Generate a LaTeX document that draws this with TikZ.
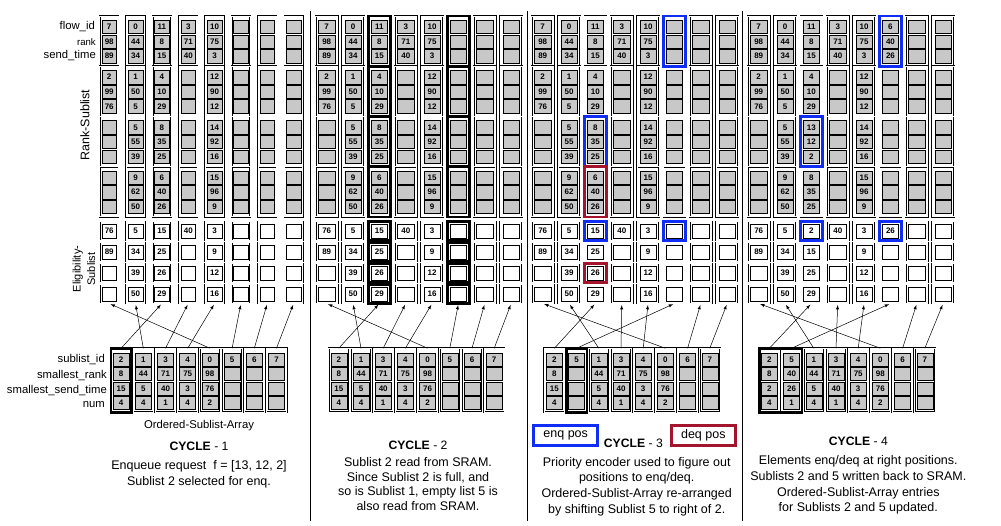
\documentclass[tikz,border=0pt]{standalone}
\usepackage{fontspec}
\setmainfont{Liberation Sans}
\usetikzlibrary{positioning}

\definecolor{cellgray}{RGB}{200,200,200}
\definecolor{enqblue}{RGB}{15,45,245}
\definecolor{deqred}{RGB}{165,20,45}

\tikzset{
  grp/.style={draw, double, double distance=1pt, line width=0.4pt, inner sep=0pt, outer sep=0pt, minimum height=50.2pt},
  eframe/.style={grp, minimum height=19pt},
  aframe/.style={grp, minimum width=20.4pt, minimum height=64pt},
  rcell/.style={draw, fill=cellgray, line width=0.5pt, inner sep=0pt, outer sep=0pt, minimum height=13.4pt},
  ecell/.style={draw, fill=white, line width=0.6pt, inner sep=0pt, outer sep=0pt, minimum height=13.6pt},
  acell/.style={rcell, minimum width=16pt, minimum height=13.2pt},
  val/.style={inner sep=0pt, font=\fontsize{8}{8}\selectfont\bfseries},
  lbl/.style={inner sep=0pt, font=\fontsize{11.3}{13}\selectfont},
  ttl/.style={inner sep=0pt, font=\fontsize{12.2}{14}\selectfont},
  desc/.style={inner sep=0pt, align=center, font=\fontsize{12.5}{15.8}\selectfont},
  link/.style={->, >=latex, line width=0.5pt, shorten >=1.5pt},
  selbox/.style={draw, line width=2.6pt},
  enqbox/.style={draw=enqblue, line width=2.6pt},
  deqbox/.style={draw=deqred, line width=2.6pt},
  divider/.style={line width=0.9pt}
}

%% data: column/group/flow_id/rank/send_time
\def\rankbase{0/0/7/98/89, 0/1/2/99/76, 1/0/0/44/34, 1/1/1/50/5, 1/2/5/55/39, 1/3/9/62/50,
  2/0/11/8/15, 2/1/4/10/29, 2/2/8/35/25, 2/3/6/40/26, 3/0/3/71/40,
  4/0/10/75/3, 4/1/12/90/12, 4/2/14/92/16, 4/3/15/96/9}
\def\rankfour{0/0/7/98/89, 0/1/2/99/76, 1/0/0/44/34, 1/1/1/50/5, 1/2/5/55/39, 1/3/9/62/50,
  2/0/11/8/15, 2/1/4/10/29, 2/2/13/12/2, 2/3/8/35/25, 3/0/3/71/40,
  4/0/10/75/3, 4/1/12/90/12, 4/2/14/92/16, 4/3/15/96/9, 5/0/6/40/26}
%% data: column/row/send_time
\def\eligbase{0/0/76, 0/1/89, 1/0/5, 1/1/34, 1/2/39, 1/3/50, 2/0/15, 2/1/25, 2/2/26, 2/3/29,
  3/0/40, 4/0/3, 4/1/9, 4/2/12, 4/3/16}
\def\eligfour{0/0/76, 0/1/89, 1/0/5, 1/1/34, 1/2/39, 1/3/50, 2/0/2, 2/1/15, 2/2/25, 2/3/29,
  3/0/40, 4/0/3, 4/1/9, 4/2/12, 4/3/16, 5/0/26}
%% data: position/sublist_id
\def\idsold{0/2, 1/1, 2/3, 3/4, 4/0, 5/5, 6/6, 7/7}
\def\idsnew{0/2, 1/5, 2/1, 3/3, 4/4, 5/0, 6/6, 7/7}
%% data: position/smallest_rank/smallest_send_time/num
\def\arrold{0/8/15/4, 1/44/5/4, 2/71/40/1, 3/75/3/4, 4/98/76/2}
\def\arrmid{0/8/15/4, 2/44/5/4, 3/71/40/1, 4/75/3/4, 5/98/76/2}
\def\arrfour{0/8/2/4, 1/40/26/1, 2/44/5/4, 3/71/40/1, 4/75/3/4, 5/98/76/2}

% #1 cycle, #2 x of column 0, #3 frame width, #4 cell width, #5 left x of array
\newcommand{\cyclegrid}[5]{%
  \foreach \col in {0,...,7} {
    \foreach \grp in {0,...,3} {
      \node[grp, minimum width=#3pt] (grp#1_\col_\grp) at ({#2+26.35*\col}, {41.1+50.2*\grp}) {};
      \foreach \idx in {0,1,2}
        \node[rcell, minimum width=#4pt] (cell#1_\col_\grp_\idx) at ({#2+26.35*\col}, {27+50.2*\grp+14.6*\idx}) {};
    }
    \foreach \row in {0,...,3} {
      \node[eframe, minimum width=#3pt] (elig#1_\col_\row) at ({#2+26.35*\col}, {231+21*\row}) {};
      \node[ecell, minimum width=#4pt] (ebox#1_\col_\row) at (elig#1_\col_\row) {};
    }
    \node[aframe] (arr#1_\col) at ({#5+11.1+22.2*\col}, 380.25) {};
    \foreach \idx in {0,...,3}
      \node[acell] (acell#1_\col_\idx) at ({#5+11.1+22.2*\col}, {359.5+14.5*\idx}) {};
  }
}

% #1 cycle, #2 rank data, #3 eligibility data, #4 sublist ids, #5 array data
\newcommand{\cyclevals}[5]{%
  \foreach \col/\grp/\fl/\rk/\st in #2 {
    \node[val] (fid#1_\col_\grp) at (cell#1_\col_\grp_0) {\fl};
    \node[val] (rnk#1_\col_\grp) at (cell#1_\col_\grp_1) {\rk};
    \node[val] (snd#1_\col_\grp) at (cell#1_\col_\grp_2) {\st};
  }
  \foreach \col/\row/\val in #3
    \node[val] (ev#1_\col_\row) at (ebox#1_\col_\row) {\val};
  \foreach \pos/\sid in #4 {
    \node[val] (sid#1_\pos) at (acell#1_\pos_0) {\sid};
    \draw[link] (arr#1_\pos.north) -- (elig#1_\sid_3.south);
  }
  \foreach \pos/\rk/\st/\nm in #5 {
    \node[val] (srk#1_\pos) at (acell#1_\pos_1) {\rk};
    \node[val] (sst#1_\pos) at (acell#1_\pos_2) {\st};
    \node[val] (num#1_\pos) at (acell#1_\pos_3) {\nm};
  }
}

\begin{document}
\begin{tikzpicture}[x=1pt, y=-1pt]
\useasboundingbox[fill=white] (0,0) rectangle (1001,525);

%% CYCLE 1
\cyclegrid{1}{109.2}{18.5}{14.5}{110}
\cyclevals{1}{\rankbase}{\eligbase}{\idsold}{\arrold}
\draw[selbox] (arr1_0.north west) rectangle (arr1_0.south east);

\node[lbl, anchor=east] (lbl_flow_id) at (95,26.7) {flow\_id};
\node[lbl, anchor=east, font=\fontsize{9.6}{11}\selectfont] (lbl_rank) at (96,41.7) {rank};
\node[lbl, anchor=east] (lbl_send_time) at (96,56) {send\_time};
\node[rotate=90, inner sep=0pt, font=\fontsize{12.5}{14}\selectfont] (lbl_rank_sublist) at (85,125) {Rank-Sublist};
\node[rotate=90, inner sep=0pt, align=center, font=\fontsize{11}{14.5}\selectfont] (lbl_elig_sublist) at (84,269) {Eligibility-\\Sublist};

\node[lbl, anchor=east] (lbl_sublist_id) at (105,360) {sublist\_id};
\node[lbl, anchor=east] (lbl_smallest_rank) at (107,375.7) {smallest\_rank};
\node[lbl, anchor=east] (lbl_smallest_send) at (107,391) {smallest\_send\_time};
\node[lbl, anchor=east] (lbl_num) at (105,405) {num};

\node[lbl] (osa_name) at (199,426) {Ordered-Sublist-Array};
\node[ttl] (cycle_one) at (199,446.7) {\textbf{CYCLE} - 1};
\node[desc, below=9pt of cycle_one] (text_one) {Enqueue request\ \ f = [13, 12, 2]\\Sublist 2 selected for enq.};

%% CYCLE 2
\cyclegrid{2}{326.7}{22}{16.5}{327.7}
\cyclevals{2}{\rankbase}{\eligbase}{\idsold}{\arrold}
\foreach \col in {2,5} {
  \foreach \grp in {0,...,3}
    \draw[selbox] (grp2_\col_\grp.north west) rectangle (grp2_\col_\grp.south east);
  \foreach \row in {0,...,3}
    \draw[selbox] (elig2_\col_\row.north west) rectangle (elig2_\col_\row.south east);
}

\node[ttl] (cycle_two) at (418,445) {\textbf{CYCLE} - 2};
\node[desc, below=8pt of cycle_two, font=\fontsize{12.5}{14.6}\selectfont] (text_two) {Sublist 2 read from SRAM.\\Since Sublist 2 is full, and\\so is Sublist 1, empty list 5 is\\also read from SRAM.};

%% CYCLE 3
\cyclegrid{3}{542.7}{22}{16.5}{543.3}
\cyclevals{3}{\rankbase}{\eligbase}{\idsnew}{\arrmid}
\draw[selbox] (arr3_1.north west) rectangle (arr3_1.south east);
\draw[enqbox] (grp3_5_0.north west) rectangle (grp3_5_0.south east);
\draw[enqbox] (grp3_2_2.north west) rectangle (grp3_2_2.south east);
\draw[deqbox] (grp3_2_3.north west) rectangle (grp3_2_3.south east);
\draw[enqbox] (elig3_2_0.north west) rectangle (elig3_2_0.south east);
\draw[enqbox] (elig3_5_0.north west) rectangle (elig3_5_0.south east);
\draw[deqbox] (elig3_2_2.north west) rectangle (elig3_2_2.south east);

\node[enqbox, minimum width=64pt, minimum height=19.8pt, font=\fontsize{12.5}{14}\selectfont] (enq_pos) at (565.7,435.5) {enq pos};
\node[deqbox, minimum width=64pt, minimum height=19.8pt, font=\fontsize{12.5}{14}\selectfont] (deq_pos) at (703.3,435.5) {deq pos};
\node[ttl] (cycle_three) at (633.3,443.3) {\textbf{CYCLE} - 3};
\node[desc, below=9pt of cycle_three, xshift=3.4pt] (text_three) {Priority encoder used to figure out\\positions to enq/deq.\\Ordered-Sublist-Array re-arranged\\by shifting Sublist 5 to right of 2.};

%% CYCLE 4
\cyclegrid{4}{758.7}{22}{16.5}{758.3}
\cyclevals{4}{\rankfour}{\eligfour}{\idsnew}{\arrfour}
\draw[selbox] (arr4_0.north west) rectangle (arr4_1.south east);
\draw[enqbox] (grp4_5_0.north west) rectangle (grp4_5_0.south east);
\draw[enqbox] (grp4_2_2.north west) rectangle (grp4_2_2.south east);
\draw[enqbox] (elig4_2_0.north west) rectangle (elig4_2_0.south east);
\draw[enqbox] (elig4_5_0.north west) rectangle (elig4_5_0.south east);

\node[ttl] (cycle_four) at (858.3,441.7) {\textbf{CYCLE} - 4};
\node[desc, below=9pt of cycle_four] (text_four) {Elements enq/deq at right positions.\\Sublists 2 and 5 written back to SRAM.\\Ordered-Sublist-Array entries\\for Sublists 2 and 5 updated.};

%% dividers
\coordinate (div1_top) at (310,11);
\coordinate (div1_bot) at (310,521);
\coordinate (div2_top) at (527.5,11);
\coordinate (div2_bot) at (527.5,521);
\coordinate (div3_top) at (742.5,11);
\coordinate (div3_bot) at (742.5,521);
\draw[divider] (div1_top) -- (div1_bot);
\draw[divider] (div2_top) -- (div2_bot);
\draw[divider] (div3_top) -- (div3_bot);

\end{tikzpicture}
\end{document}
